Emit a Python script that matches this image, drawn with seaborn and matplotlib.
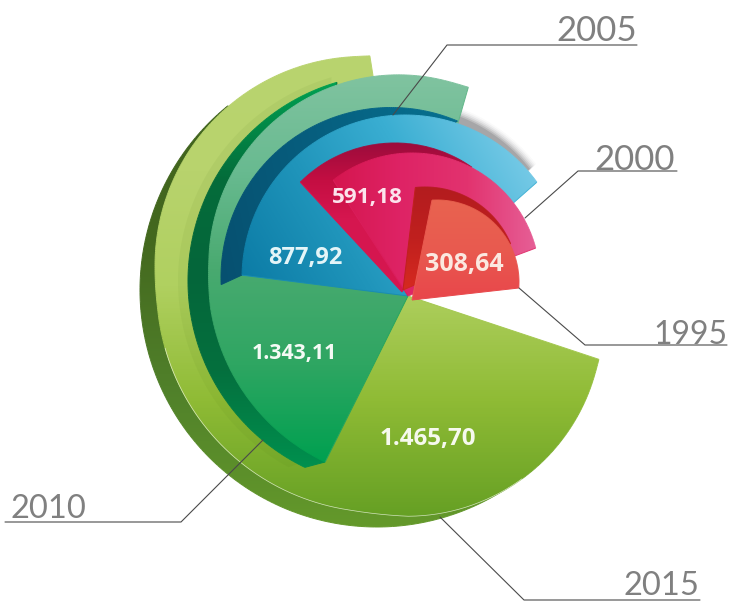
import numpy as np
import seaborn as sns
import matplotlib.pyplot as plt
from matplotlib.collections import LineCollection
from matplotlib.patches import Polygon

years = ['1995', '2000', '2005', '2010', '2015']
values = [308.64, 591.18, 877.92, 1343.11, 1465.70]
value_labels = ['308,64', '591,18', '877,92', '1.343,11', '1.465,70']

sns.set_theme(style='white')
plt.rcParams['font.family'] = ['Lato', 'DejaVu Sans']

W, H = 729, 601
fig = plt.figure(figsize=(W / 100, H / 100), dpi=100)
ax = fig.add_axes([0, 0, 1, 1])
ax.set_xlim(0, W)
ax.set_ylim(H, 0)
ax.axis('off')

xx, yy = np.meshgrid(np.arange(W) + .5, np.arange(H) + .5)


def arc(cx, cy, r, a0, a1):
    a = np.radians(np.linspace(a0, a1, 160))
    return np.column_stack([cx + r * np.cos(a), cy - r * np.sin(a)])


def smooth(pts, n=25):
    # round off the joints between arcs, keeps the two ends in place
    pad = np.pad(pts, ((n, n), (0, 0)), mode='reflect', reflect_type='odd')
    k = np.ones(n) / n
    return np.column_stack([np.convolve(pad[:, i], k, mode='same')[n:-n] for i in (0, 1)])


def shape(pts, colors, direction=(0, 1), z=1):
    # gradient image clipped to the outline, outline stroked to smooth the edge
    pts = np.asarray(pts)
    cmap = sns.blend_palette(colors, as_cmap=True)
    dx, dy = direction
    proj = pts[:, 0] * dx + pts[:, 1] * dy
    lo, hi = proj.min(), proj.max()
    t = (xx * dx + yy * dy - lo) / (hi - lo)
    im = ax.imshow(np.clip(t, 0, 1), cmap=cmap, vmin=0, vmax=1, extent=(0, W, H, 0),
                   interpolation='bilinear', zorder=z, aspect='auto')
    poly = Polygon(pts, closed=True, transform=ax.transData, fc='none', ec='none')
    ax.add_patch(poly)
    im.set_clip_path(poly)
    closed = np.vstack([pts, pts[:1]])
    segs = np.stack([closed[:-1], closed[1:]], axis=1)
    mid = (segs[:, 0, 0] + segs[:, 1, 0]) / 2 * dx + (segs[:, 0, 1] + segs[:, 1, 1]) / 2 * dy
    lc = LineCollection(segs, colors=cmap((mid - lo) / (hi - lo)), linewidths=.7, zorder=z)
    ax.add_collection(lc)


apex = [408, 296]

# 2015
edge_2015 = smooth(np.vstack([arc(364, 265.4, 209.6, 88.4, 186.7),
                              arc(382.4, 286.6, 226.4, 179, 268),
                              arc(407, 321, 195.7, 264, 348.7)]))
shape(arc(377, 290, 237, 129, 303.4), ['#3f621d', '#44691f', '#50802a', '#64992a'], z=1)
shape(np.vstack([[apex], edge_2015]),
      ['#b9d36f', '#b8d36d', '#b0d060', '#8fbb35', '#66a024'], z=2)
a = edge_2015[190:400]
ax.plot(a[:, 0], a[:, 1], color='white', lw=.5, alpha=.7, zorder=2)

# soft shadow behind the 2005 arc
for i, al in enumerate([.24, .18, .13, .09, .06, .03]):
    pts = np.vstack([[apex], arc(399, 271, 166 + i * 1.6, 38, 74)])
    ax.add_patch(Polygon(pts, fc='#606064', ec='none', alpha=al, zorder=3 - i * .05))

# 2010
edge_2010 = smooth(np.vstack([arc(398.5, 264.5, 190.5, 68.5, 187.6),
                              arc(413, 277, 205, 183.6, 244.6)]))
shadow = np.vstack([arc(390, 281, 212, 106, 241.4), [[310, 460]]])
ax.add_patch(Polygon(shadow, fc='#3f6a10', ec='none', alpha=.06, zorder=4))
shape(np.vstack([arc(395, 281, 207, 106.3, 244.2), [[325, 462]]]),
      ['#00a052', '#046c3a', '#04663a', '#04703e', '#00904e'], z=5)
shape(np.vstack([[apex], edge_2010]),
      ['#80c3a0', '#68ba90', '#49aa70', '#2ea662', '#00a050'], z=6)

# 2005
shape(np.vstack([arc(391, 277.5, 170, 67, 182.4), [[242, 275]]]),
      ['#065070', '#067090'], direction=(1, -.2), z=7)
shape(np.vstack([[apex], arc(405, 278, 163, 36, 179)]),
      ['#0c7ca6', '#1f94ba', '#3aaed2', '#74c9e6'], direction=(1, -.6), z=8)

# 2000
shape(np.vstack([[[402, 292]], arc(395, 277, 134, 55, 135)]),
      ['#9c0c3c', '#c40e42', '#d5164f', '#d5164f', '#d5164f'], z=9)
shape(np.vstack([[apex], arc(412, 281, 128, 14.9, 128)]),
      ['#d5164f', '#de2365', '#e2336f', '#e65f96'], direction=(1, 0), z=10)

# 1995
shape(np.vstack([[[403, 290]], arc(425, 280, 93, 23, 96)]),
      ['#b31c1e', '#c0201e', '#d62a20'], z=11)
shape(np.vstack([[[412, 300]], arc(437, 282, 82, -4.2, 93.5)]),
      ['#e9634f', '#e85a4f', '#e8464b'], z=12)

# leader lines and year labels
leaders = [
    ([519, 585, 727], [288, 345, 345]),
    ([525, 578, 677], [218, 171, 171]),
    ([393, 447, 637], [115, 45, 45]),
    ([263, 181, 5], [440, 522, 522]),
    ([440, 524, 700], [517, 600, 600]),
]
for lx, ly in leaders:
    ax.plot(lx, ly, color='#4a4a4a', lw=.8, zorder=20)

year_pos = [(690, 344), (635, 170), (597, 41), (48, 518), (661, 595)]
year_size = [23, 25, 25, 23.5, 23.5]
for y, (tx, ty), fs in zip(years, year_pos, year_size):
    ax.text(tx, ty, y, color='#808080', fontsize=fs, ha='center', va='baseline', zorder=21)

val_pos = [(464, 264), (367, 198), (305, 258), (294, 354), (428, 439)]
val_size = [18, 16.2, 17, 15.3, 17.4]
val_col = ['#fbe8e0', '#fbe3ec', '#e4f5f8', '#f4faf5', '#f6f9ee']
for s, (tx, ty), c, fs in zip(value_labels, val_pos, val_col, val_size):
    ax.text(tx, ty, s, color=c, fontsize=fs, ha='center', va='center',
            family='Open Sans', fontweight='bold', zorder=22)

fig.savefig('out.png', dpi=100, facecolor='white')
